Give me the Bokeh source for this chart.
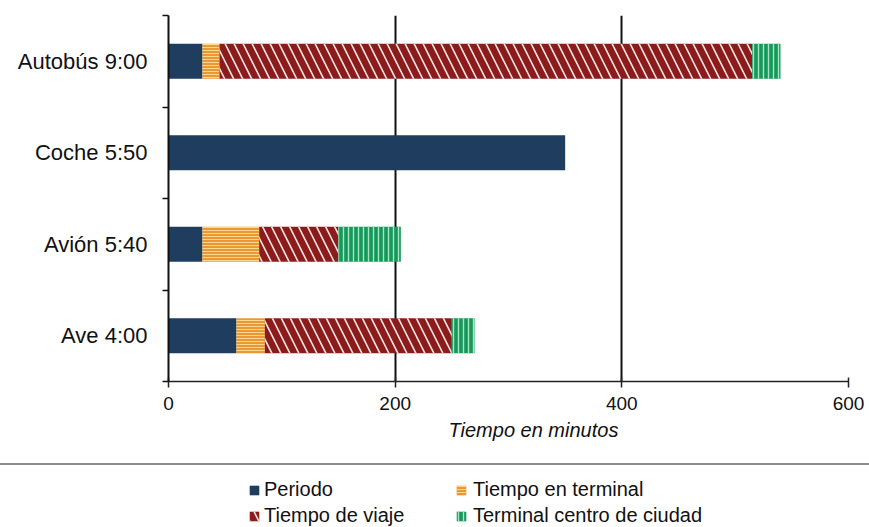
import math

from bokeh.embed import file_html
from bokeh.layouts import column
from bokeh.models import Div, FixedTicker, Legend, LegendItem, Range1d, Title
from bokeh.plotting import figure
from bokeh.resources import INLINE

# Travel modes, listed bottom to top
categories = ["Ave 4:00", "Avión 5:40", "Coche 5:50", "Autobús 9:00"]

# Minutes per stage of each trip
periodo = [60, 30, 350, 30]
tiempo_terminal = [25, 50, 0, 15]
tiempo_viaje = [165, 70, 0, 470]
terminal_centro = [20, 55, 0, 25]

series_names = ["Periodo", "Tiempo en terminal", "Tiempo de viaje", "Terminal centro de ciudad"]
x_ticks = [0, 200, 400, 600]
x_title = "Tiempo en minutos"

FONT = "Liberation Sans"
FRAME_LEFT = 168

styles = [
    dict(fill_color="#1f3d5e"),
    dict(fill_color="#ec9736", hatch_pattern="horizontal_line", hatch_color="#fbd88e",
         hatch_scale=3, hatch_weight=1),
    dict(fill_color="#8c1c1c", hatch_pattern="left_diagonal_line", hatch_color="#f4e6e6",
         hatch_scale=18, hatch_weight=1.6),
    dict(fill_color="#14995a", hatch_pattern="vertical_line", hatch_color="#a8e3c3",
         hatch_scale=5, hatch_weight=1.4),
]

series = [periodo, tiempo_terminal, tiempo_viaje, terminal_centro]
y_pos = [i + 0.5 for i in range(len(categories))]

p = figure(width=869, height=463, x_range=Range1d(0, 600), y_range=Range1d(0, len(categories)),
           output_backend="svg", toolbar_location=None,
           min_border_left=FRAME_LEFT, min_border_right=21, min_border_top=15, min_border_bottom=82)
p.outline_line_color = None
p.background_fill_color = "white"
p.border_fill_color = "white"

# stacked horizontal bars
left = [0] * len(categories)
for vals, st in zip(series, styles):
    right = [l + v for l, v in zip(left, vals)]
    p.hbar(y=y_pos, left=left, right=right, height=0.38, line_color=None, **st)
    left = right

p.ygrid.visible = False
p.xgrid.ticker = FixedTicker(ticks=x_ticks)
p.xgrid.grid_line_color = "#111111"
p.xgrid.grid_line_width = 2

xa = p.xaxis[0]
xa.ticker = FixedTicker(ticks=x_ticks)
xa.axis_line_color = "#222222"
xa.axis_line_width = 1.5
xa.major_tick_line_color = "#222222"
xa.major_tick_line_width = 1.5
xa.major_tick_in = 4
xa.major_tick_out = 6
xa.minor_tick_line_color = None
xa.major_label_text_font = FONT
xa.major_label_text_font_size = "19px"
xa.major_label_text_color = "#111111"
xa.major_label_standoff = 9

# axis caption, set a little right of centre
p.add_layout(Title(text=x_title, align="left", offset=448 - FRAME_LEFT, standoff=8,
                   text_font=FONT, text_font_style="italic", text_font_size="20px",
                   text_color="#111111"), "below")

ya = p.yaxis[0]
ya.ticker = FixedTicker(ticks=y_pos, minor_ticks=list(range(len(categories) + 1)))
ya.major_label_overrides = {y: c for y, c in zip(y_pos, categories)}
ya.axis_line_color = "#111111"
ya.axis_line_width = 2
ya.major_tick_line_color = None
ya.major_tick_in = 0
ya.major_tick_out = 0
ya.minor_tick_line_color = "#111111"
ya.minor_tick_line_width = 1.5
ya.minor_tick_in = 0
ya.minor_tick_out = 6
ya.major_label_text_font = FONT
ya.major_label_text_font_size = "22px"
ya.major_label_text_color = "#111111"
ya.major_label_standoff = 15

# grey rule across the page above the legend
rule = Div(width=869, height=2, margin=0, styles={"background-color": "#8e8e8e"})

# legend strip (its frame lines up with the chart frame in the column)
leg = figure(width=869, height=62, x_range=Range1d(0, 1), y_range=Range1d(0, 1),
             output_backend="svg", toolbar_location=None,
             min_border_left=FRAME_LEFT, min_border_right=21, min_border_top=0, min_border_bottom=0)
leg.axis.visible = False
leg.grid.visible = False
leg.outline_line_color = None

proxies = []
for st in styles:
    proxies.append(leg.hbar(y=[math.nan], left=[math.nan], right=[math.nan], height=1,
                            line_color=None, **st))


def make_legend(idx, loc, standoff):
    lg = Legend(items=[LegendItem(label=series_names[i], renderers=[proxies[i]]) for i in idx],
                location=loc, orientation="vertical")
    lg.glyph_width = 12
    lg.glyph_height = 12
    lg.label_standoff = standoff
    lg.label_text_font = FONT
    lg.label_text_font_size = "20px"
    lg.label_text_color = "#111111"
    lg.label_height = 20
    lg.spacing = 3
    lg.padding = 0
    lg.margin = 0
    lg.border_line_color = None
    lg.background_fill_alpha = 0
    return lg


leg.add_layout(make_legend([0, 2], (248 - FRAME_LEFT, 0), 4))
leg.add_layout(make_legend([1, 3], (455 - FRAME_LEFT, 0), 6))

layout = column(p, rule, leg, spacing=0)
open("out.html", "w").write(file_html(layout, INLINE))
